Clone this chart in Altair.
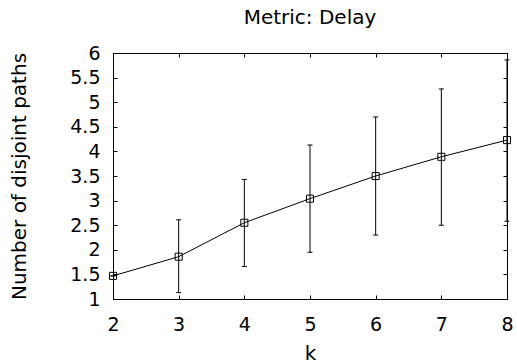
import altair as alt
import pandas as pd

# Mean number of disjoint paths per k, with the spread shown as error bars
k_values = [2, 3, 4, 5, 6, 7, 8]
mean_paths = [1.47, 1.86, 2.55, 3.04, 3.50, 3.89, 4.23]
low_paths = [1.47, 1.13, 1.66, 1.95, 2.30, 2.50, 2.58]
high_paths = [1.47, 2.61, 3.43, 4.13, 4.70, 5.27, 5.86]

x_ticks = [2, 3, 4, 5, 6, 7, 8]
y_ticks = [1, 1.5, 2, 2.5, 3, 3.5, 4, 4.5, 5, 5.5, 6]

df = pd.DataFrame({"k": k_values, "mean": mean_paths, "lo": low_paths, "hi": high_paths})

FONT = "DejaVu Sans"
x_scale = alt.Scale(domain=[2, 8], nice=False)
y_scale = alt.Scale(domain=[1, 6], nice=False)

# inward ticks: axis pulled 4px into the plot, ticks pointing back to the frame
common = dict(tickSize=4, offset=-4, domain=False, grid=False, tickColor="black",
              labelColor="black", titleColor="black", labelFont=FONT, titleFont=FONT,
              labelFontSize=19, titleFontSize=20, titleFontWeight="normal")

x_bottom = alt.Axis(orient="bottom", values=x_ticks, format="d", labelPadding=16,
                    labelFlush=False, title="k", titlePadding=9, **common)
y_left = alt.Axis(orient="left", values=y_ticks, format="~g", labelPadding=13,
                  title="Number of disjoint paths", titlePadding=40, **common)
x_top = alt.Axis(orient="top", values=x_ticks, labels=False, title="", **common)
y_right = alt.Axis(orient="right", values=y_ticks, labels=False, title="", **common)

base = alt.Chart(df)

line = base.mark_line(color="black", strokeWidth=1).encode(
    x=alt.X("k:Q", scale=x_scale, axis=x_bottom),
    y=alt.Y("mean:Q", scale=y_scale, axis=y_left),
)

bars = base.mark_rule(color="black", strokeWidth=1).encode(
    x=alt.X("k:Q", scale=x_scale, axis=None),
    y=alt.Y("lo:Q", scale=y_scale, axis=None),
    y2="hi:Q",
)

cap_lo = base.mark_tick(orient="horizontal", size=5, thickness=1, color="black", opacity=1).encode(
    x=alt.X("k:Q", scale=x_scale, axis=None),
    y=alt.Y("lo:Q", scale=y_scale, axis=None),
)
cap_hi = base.mark_tick(orient="horizontal", size=5, thickness=1, color="black", opacity=1).encode(
    x=alt.X("k:Q", scale=x_scale, axis=None),
    y=alt.Y("hi:Q", scale=y_scale, axis=None),
)

points = base.mark_point(shape="square", size=50, filled=False, color="black",
                         strokeWidth=1, opacity=1).encode(
    x=alt.X("k:Q", scale=x_scale, axis=x_top),
    y=alt.Y("mean:Q", scale=y_scale, axis=y_right),
)

chart = (
    alt.layer(line, bars, cap_lo, cap_hi, points)
    .resolve_axis(x="independent", y="independent")
    .properties(
        width=394,
        height=246,
        title=alt.TitleParams("Metric: Delay", font=FONT, fontSize=20, fontWeight="normal",
                              color="black", anchor="middle", offset=16),
        autosize=alt.AutoSizeParams(type="none"),
        padding={"left": 113, "top": 53, "right": 10, "bottom": 65},
        background="white",
    )
    .configure_view(stroke="black", strokeWidth=1)
)

chart.save("out.html", embed_options={"renderer": "svg", "actions": False})
